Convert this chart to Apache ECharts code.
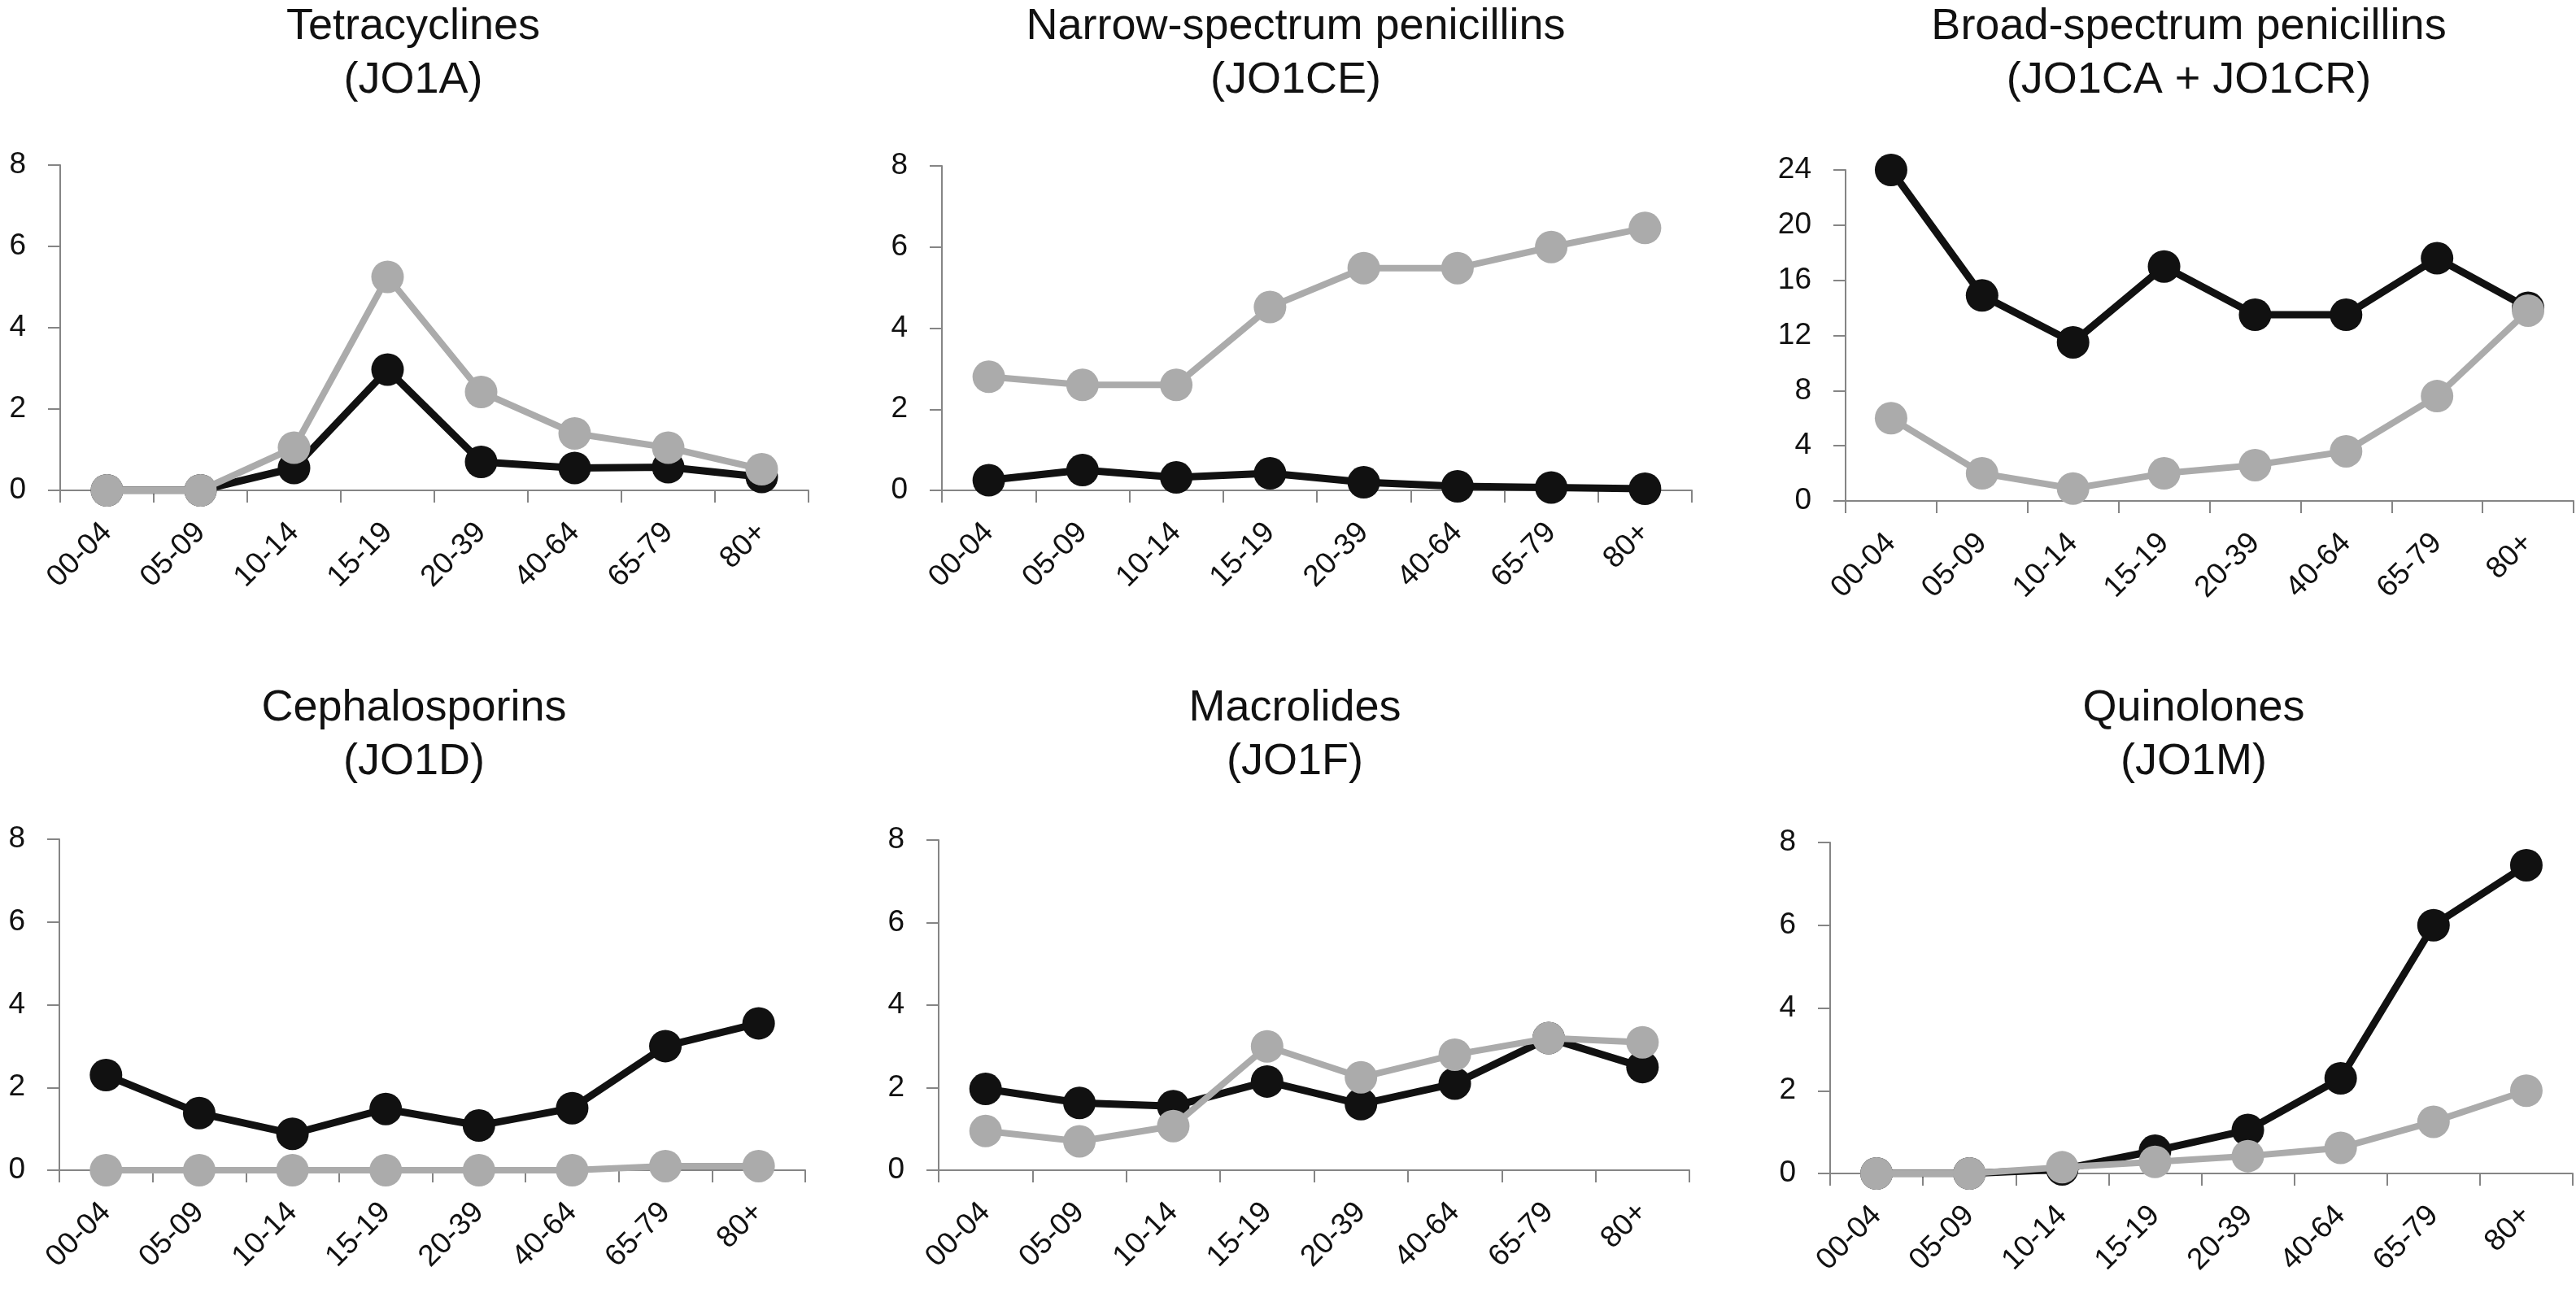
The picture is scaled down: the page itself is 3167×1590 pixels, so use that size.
<!DOCTYPE html>
<html>
<head>
<meta charset="utf-8">
<script src="https://cdn.jsdelivr.net/npm/echarts@6/dist/echarts.min.js"></script>
<style>
  html, body { margin: 0; padding: 0; background: #fff; }
  #chart { width: 3167px; height: 1590px; }
</style>
</head>
<body>
<div id="chart"></div>
<script>
// ---- data ----
const categories = ['00-04', '05-09', '10-14', '15-19', '20-39', '40-64', '65-79', '80+'];

const panelTitles = [
  'Tetracyclines\n(JO1A)',
  'Narrow-spectrum penicillins\n(JO1CE)',
  'Broad-spectrum penicillins\n(JO1CA + JO1CR)',
  'Cephalosporins\n(JO1D)',
  'Macrolides\n(JO1F)',
  'Quinolones\n(JO1M)'
];

const tetracyclinesBlack = [0, 0, 0.55, 2.97, 0.7, 0.55, 0.57, 0.33];
const tetracyclinesGray  = [0, 0, 1.05, 5.25, 2.42, 1.4, 1.05, 0.52];

const narrowBlack = [0.25, 0.5, 0.32, 0.42, 0.2, 0.1, 0.07, 0.04];
const narrowGray  = [2.8, 2.6, 2.6, 4.52, 5.48, 5.48, 6.0, 6.47];

const broadBlack = [24.0, 14.9, 11.5, 17.0, 13.5, 13.5, 17.6, 14.0];
const broadGray  = [6.0, 2.0, 0.9, 2.0, 2.6, 3.6, 7.6, 13.8];

const cephalosporinsBlack = [2.3, 1.38, 0.88, 1.48, 1.08, 1.5, 3.0, 3.55];
const cephalosporinsGray  = [0, 0, 0, 0, 0, 0, 0.1, 0.1];

const macrolidesBlack = [1.97, 1.63, 1.55, 2.15, 1.6, 2.1, 3.2, 2.5];
const macrolidesGray  = [0.95, 0.7, 1.07, 3.0, 2.25, 2.8, 3.2, 3.1];

const quinolonesBlack = [0, 0, 0.1, 0.55, 1.05, 2.3, 6.0, 7.45];
const quinolonesGray  = [0, 0, 0.15, 0.28, 0.42, 0.62, 1.25, 2.0];

const yMax = [8, 8, 24, 8, 8, 8];
const yStep = [2, 2, 4, 2, 2, 2];

const blackSeries = [tetracyclinesBlack, narrowBlack, broadBlack, cephalosporinsBlack, macrolidesBlack, quinolonesBlack];
const graySeries  = [tetracyclinesGray, narrowGray, broadGray, cephalosporinsGray, macrolidesGray, quinolonesGray];

// ---- layout (pixels) ----
const grids = [
  { left: 74,   top: 203,  width: 920, height: 400 },
  { left: 1158, top: 204,  width: 922, height: 399 },
  { left: 2269, top: 209,  width: 895, height: 407 },
  { left: 73,   top: 1032, width: 917, height: 407 },
  { left: 1154, top: 1033, width: 923, height: 406 },
  { left: 2250, top: 1036, width: 913, height: 407 }
];
const titleCenters = [508, 1593, 2691, 509, 1592, 2697];
const titleTops = [0, 0, 0, 838, 838, 838];

const FONT = '"Liberation Sans", Arial, Helvetica, sans-serif';
const AXIS_COLOR = '#858585';
const BLACK = '#111111';
const GRAY = '#ababab';

const option = {
  animation: false,
  backgroundColor: '#ffffff',
  textStyle: { fontFamily: FONT },
  title: panelTitles.map((t, i) => ({
    text: t,
    left: titleCenters[i],
    top: titleTops[i],
    padding: 0,
    textAlign: 'center',
    textStyle: { fontFamily: FONT, fontSize: 54, fontWeight: 'normal', color: '#111', lineHeight: 66 }
  })),
  grid: grids.map(g => Object.assign({ containLabel: false, outerBoundsMode: 'none' }, g)),
  xAxis: grids.map((g, i) => ({
    type: 'category',
    gridIndex: i,
    data: categories,
    boundaryGap: true,
    axisLine: { show: true, lineStyle: { color: AXIS_COLOR, width: 2 } },
    axisTick: { show: true, length: 15, alignWithLabel: false, lineStyle: { color: AXIS_COLOR, width: 2 } },
    axisLabel: { rotate: 45, fontSize: 37, color: '#111', fontFamily: FONT, margin: 46, interval: 0 },
    splitLine: { show: false }
  })),
  yAxis: grids.map((g, i) => ({
    type: 'value',
    gridIndex: i,
    min: 0,
    max: yMax[i],
    interval: yStep[i],
    axisLine: { show: true, lineStyle: { color: AXIS_COLOR, width: 2 } },
    axisTick: { show: true, length: 15, lineStyle: { color: AXIS_COLOR, width: 2 } },
    axisLabel: { fontSize: 37, color: '#111', fontFamily: FONT, margin: 42 },
    splitLine: { show: false }
  })),
  series: []
};

for (let i = 0; i < 6; i++) {
  option.series.push({
    type: 'line',
    xAxisIndex: i, yAxisIndex: i,
    data: blackSeries[i],
    symbol: 'circle', symbolSize: 40,
    showAllSymbol: true,
    lineStyle: { color: BLACK, width: 9 },
    itemStyle: { color: BLACK },
    z: 2
  });
  option.series.push({
    type: 'line',
    xAxisIndex: i, yAxisIndex: i,
    data: graySeries[i],
    symbol: 'circle', symbolSize: 40,
    showAllSymbol: true,
    lineStyle: { color: GRAY, width: 8 },
    itemStyle: { color: GRAY },
    z: 3
  });
}

const chart = echarts.init(document.getElementById('chart'), null, { renderer: 'canvas' });
chart.setOption(option);
</script>
</body>
</html>
